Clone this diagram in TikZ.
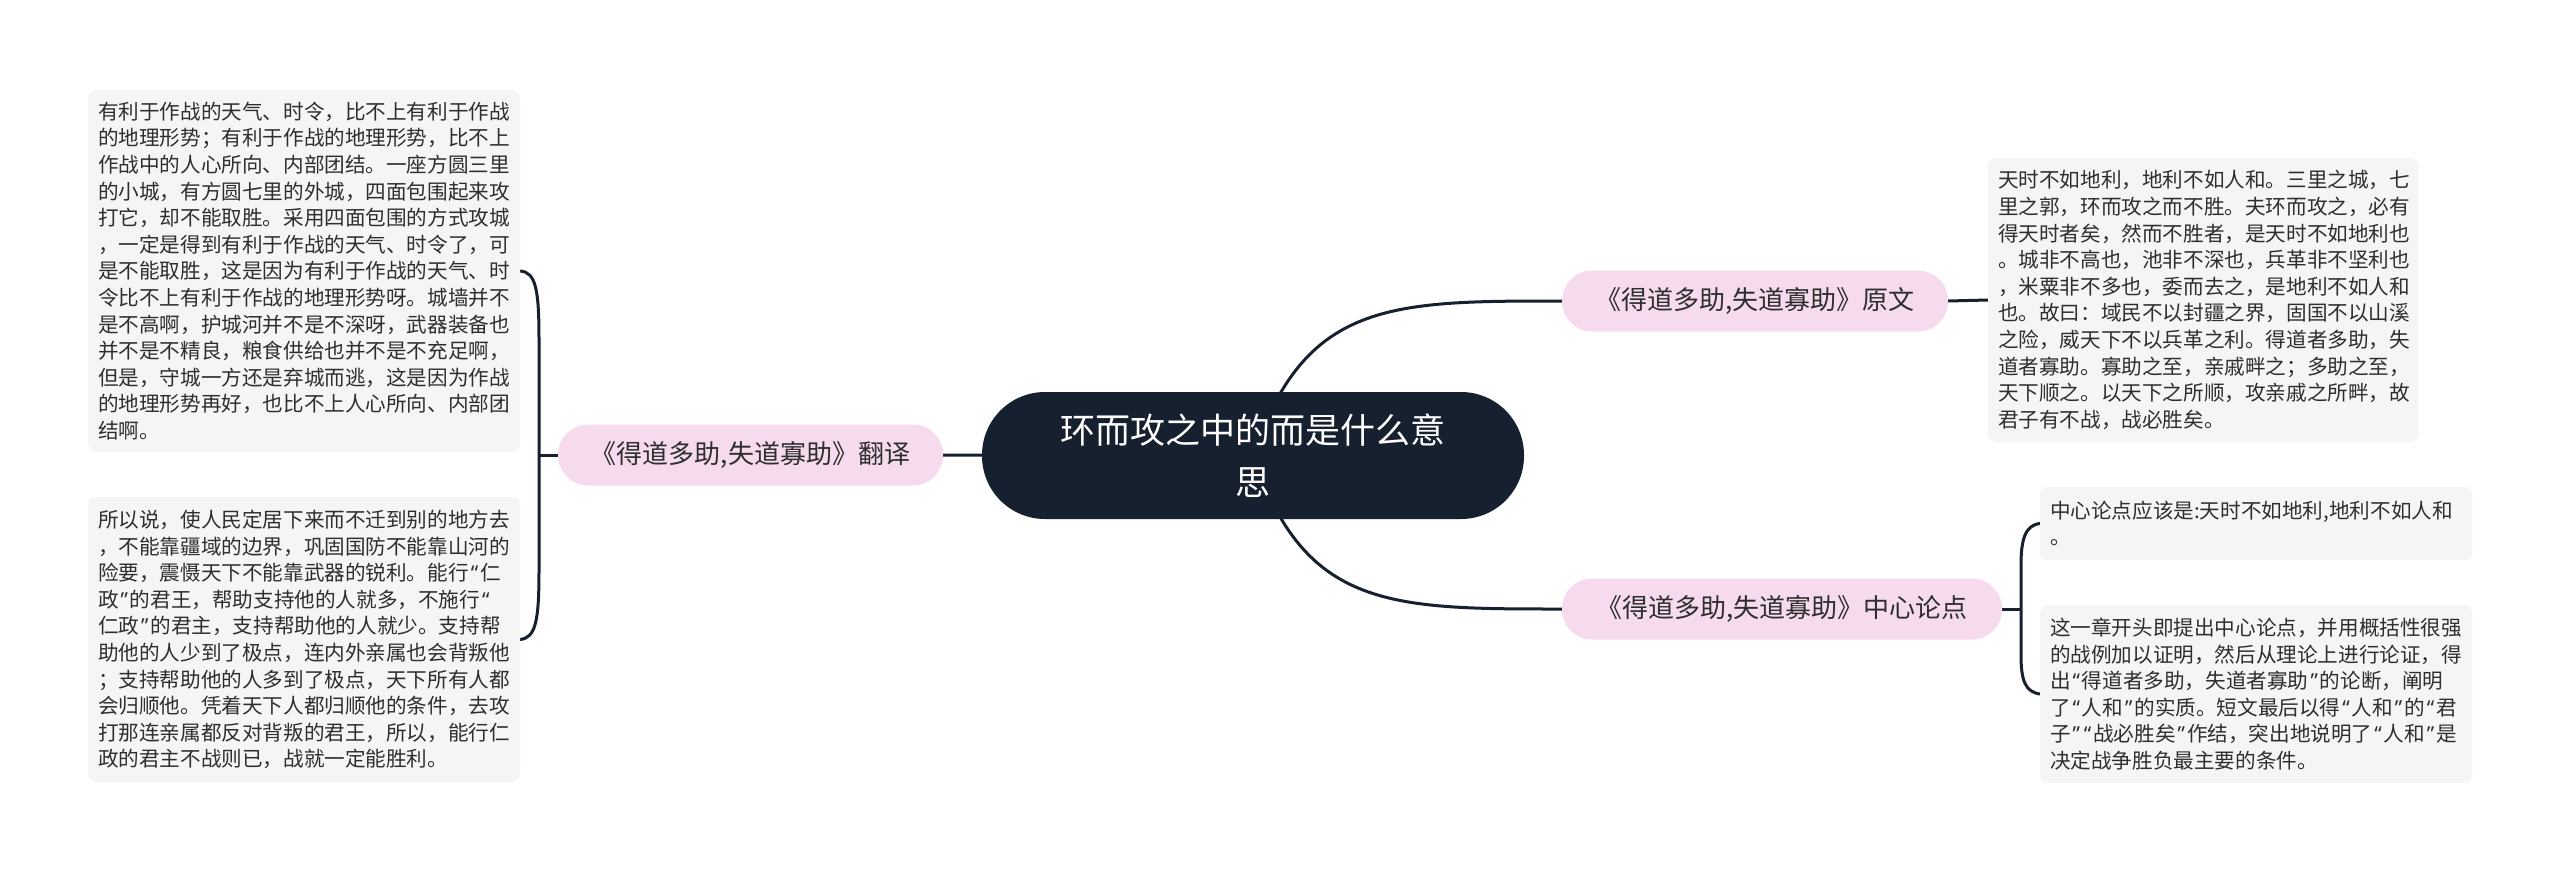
\documentclass[tikz,border=0pt]{standalone}
\usepackage{fontspec}
\newfontfamily\cjk{Noto Sans CJK SC}
\newfontfamily\qfont{Noto Sans}
\newcommand{\oq}{\makebox[0.55em][c]{\qfont “}}
\newcommand{\cq}{\makebox[0.55em][c]{\qfont ”}}
\definecolor{navy}{HTML}{16202F}
\definecolor{pinkf}{HTML}{F6DBEF}
\definecolor{boxf}{HTML}{F5F5F5}
\definecolor{txt}{HTML}{2E2E2E}
\pgfdeclarelayer{bg}
\pgfsetlayers{bg,main}
\begin{document}
\begin{tikzpicture}[x=1pt,y=-1pt,
 every node/.style={inner sep=0pt, outer sep=0pt},
 centernode/.style={fill=navy, rounded corners=63pt, minimum width=542pt, minimum height=127pt, text=white, font=\cjk\fontsize{35}{52}\selectfont, align=center},
 branch/.style={fill=pinkf, rounded corners=30pt, minimum height=61pt, text=txt, font=\cjk\fontsize{26}{30}\selectfont},
 leaf/.style={fill=boxf, rounded corners=8pt, inner xsep=10pt, text width=412pt, align=left, text=txt, font=\cjk\fontsize{20.6}{26.6}\selectfont},
 conn/.style={draw=navy, line width=3pt}
]
\useasboundingbox (0,0) rectangle (2560,873);

\node[centernode] (c) at (1253,455.5) {环而攻之中的而是什么意\\思};

\node[branch, minimum width=385pt] (b1) at (750.5,455) {《得道多助,失道寡助》翻译};
\node[branch, minimum width=386pt] (b2) at (1755,301) {《得道多助,失道寡助》原文};
\node[branch, minimum width=440pt] (b3) at (1782,609) {《得道多助,失道寡助》中心论点};

\node[leaf, minimum height=362pt] (l1) at (304,271) {有利于作战的天气、时令，比不上有利于作战\\的地理形势；有利于作战的地理形势，比不上\\作战中的人心所向、内部团结。一座方圆三里\\的小城，有方圆七里的外城，四面包围起来攻\\打它，却不能取胜。采用四面包围的方式攻城\\，一定是得到有利于作战的天气、时令了，可\\是不能取胜，这是因为有利于作战的天气、时\\令比不上有利于作战的地理形势呀。城墙并不\\是不高啊，护城河并不是不深呀，武器装备也\\并不是不精良，粮食供给也并不是不充足啊，\\但是，守城一方还是弃城而逃，这是因为作战\\的地理形势再好，也比不上人心所向、内部团\\结啊。};

\node[leaf, minimum height=285pt] (l2) at (304,639.5) {所以说，使人民定居下来而不迁到别的地方去\\，不能靠疆域的边界，巩固国防不能靠山河的\\险要，震慑天下不能靠武器的锐利。能行\oq 仁\\政\cq 的君王，帮助支持他的人就多，不施行\oq\\仁政\cq 的君主，支持帮助他的人就少。支持帮\\助他的人少到了极点，连内外亲属也会背叛他\\；支持帮助他的人多到了极点，天下所有人都\\会归顺他。凭着天下人都归顺他的条件，去攻\\打那连亲属都反对背叛的君王，所以，能行仁\\政的君主不战则已，战就一定能胜利。};

\node[leaf, text width=410pt, minimum height=284pt] (r1) at (2203,300) {天时不如地利，地利不如人和。三里之城，七\\里之郭，环而攻之而不胜。夫环而攻之，必有\\得天时者矣，然而不胜者，是天时不如地利也\\。城非不高也，池非不深也，兵革非不坚利也\\，米粟非不多也，委而去之，是地利不如人和\\也。故曰：域民不以封疆之界，固国不以山溪\\之险，威天下不以兵革之利。得道者多助，失\\道者寡助。寡助之至，亲戚畔之；多助之至，\\天下顺之。以天下之所顺，攻亲戚之所畔，故\\君子有不战，战必胜矣。};

\node[leaf, minimum height=73pt] (r2) at (2256,523.5) {中心论点应该是:天时不如地利,地利不如人和\\。};

\node[leaf, minimum height=178pt] (r3) at (2256,694) {这一章开头即提出中心论点，并用概括性很强\\的战例加以证明，然后从理论上进行论证，得\\出\oq 得道者多助，失道者寡助\cq 的论断，阐明\\了\oq 人和\cq 的实质。短文最后以得\oq 人和\cq 的\oq 君\\子\cq\oq 战必胜矣\cq 作结，突出地说明了\oq 人和\cq 是\\决定战争胜负最主要的条件。};

\begin{pgfonlayer}{bg}
\fill[white] (0,0) rectangle (2560,873);
\draw[conn] (c.center) -- (b1.east);
\draw[conn] (c.center) .. controls (1305,301) and (1390,301) .. (b2.west);
\draw[conn] (c.center) .. controls (1305,609) and (1390,609) .. (b3.west);
\draw[conn] (b2.east) -- (r1.west);
\coordinate (jl) at (539,455);
\draw[conn] (b1.west) -- (jl);
\draw[conn] (l1.east) .. controls (536,272) and (539,290) .. (539,340) -- (539,570) .. controls (539,620) and (536,638) .. (l2.east);
\coordinate (jr) at (2021,609);
\draw[conn] (b3.east) -- (jr);
\draw[conn] (r2.west) .. controls (2025,525) and (2021,540) .. (2021,565) -- (2021,655) .. controls (2021,680) and (2025,692) .. (r3.west);
\end{pgfonlayer}
\end{tikzpicture}
\end{document}
